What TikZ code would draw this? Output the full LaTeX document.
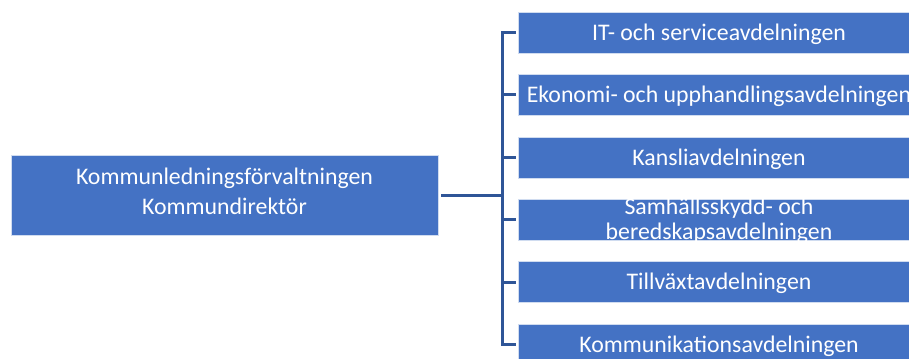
\documentclass[tikz,border=0pt]{standalone}
\usepackage{fontspec}
\setmainfont{Carlito}
\definecolor{boxblue}{HTML}{4472C4}
\definecolor{lineblue}{HTML}{2F5597}
\begin{document}
\begin{tikzpicture}[x=1bp,y=-1bp,
  boxshape/.style={fill=boxblue,draw=white!75!boxblue,line width=0.6bp,inner sep=0pt,minimum height=41bp,minimum width=402bp},
  rootshape/.style={fill=boxblue,draw=white!75!boxblue,line width=0.6bp,inner sep=0pt,minimum height=80bp,minimum width=427bp},
  label/.style={text=white,inner sep=0pt,align=center,font=\fontsize{23.8bp}{25bp}\selectfont},
  rootlabel/.style={text=white,inner sep=0pt,align=center,font=\fontsize{23.8bp}{30bp}\selectfont},
  conn/.style={draw=lineblue,line width=3bp,line join=miter}]
\useasboundingbox (0,0) rectangle (909,358);
\node[rootshape] (root) at (224.5,195) {};
\node[rootlabel] (roott) at (224.5,191.5) {Kommunledningsförvaltningen\\Kommundirektör};
\foreach \i/\y/\t in {1/32.5/{IT- och serviceavdelningen},
                      2/94.9/{Ekonomi- och upphandlingsavdelningen},
                      3/157.3/{Kansliavdelningen},
                      4/219.7/{Samhällsskydd- och\\beredskapsavdelningen},
                      5/282.1/{Tillväxtavdelningen},
                      6/344.5/{Kommunikationsavdelningen}}{
  \node[boxshape] (c\i) at (719,\y) {};
  \node[label] (t\i) at ([yshift=-1.5bp]c\i.center) {\t};
}
\coordinate (bus) at (502.5,195);
\draw[conn] ([xshift=3bp]root.east) -- (bus);
\draw[conn] ([xshift=-2bp]c1.west) -- (bus|-c1.west) -- (bus|-c6.west) -- ([xshift=-2bp]c6.west);
\foreach \i in {2,3,4,5}{
  \draw[conn] (bus|-c\i.west) -- ([xshift=-2bp]c\i.west);
}
\end{tikzpicture}
\end{document}
